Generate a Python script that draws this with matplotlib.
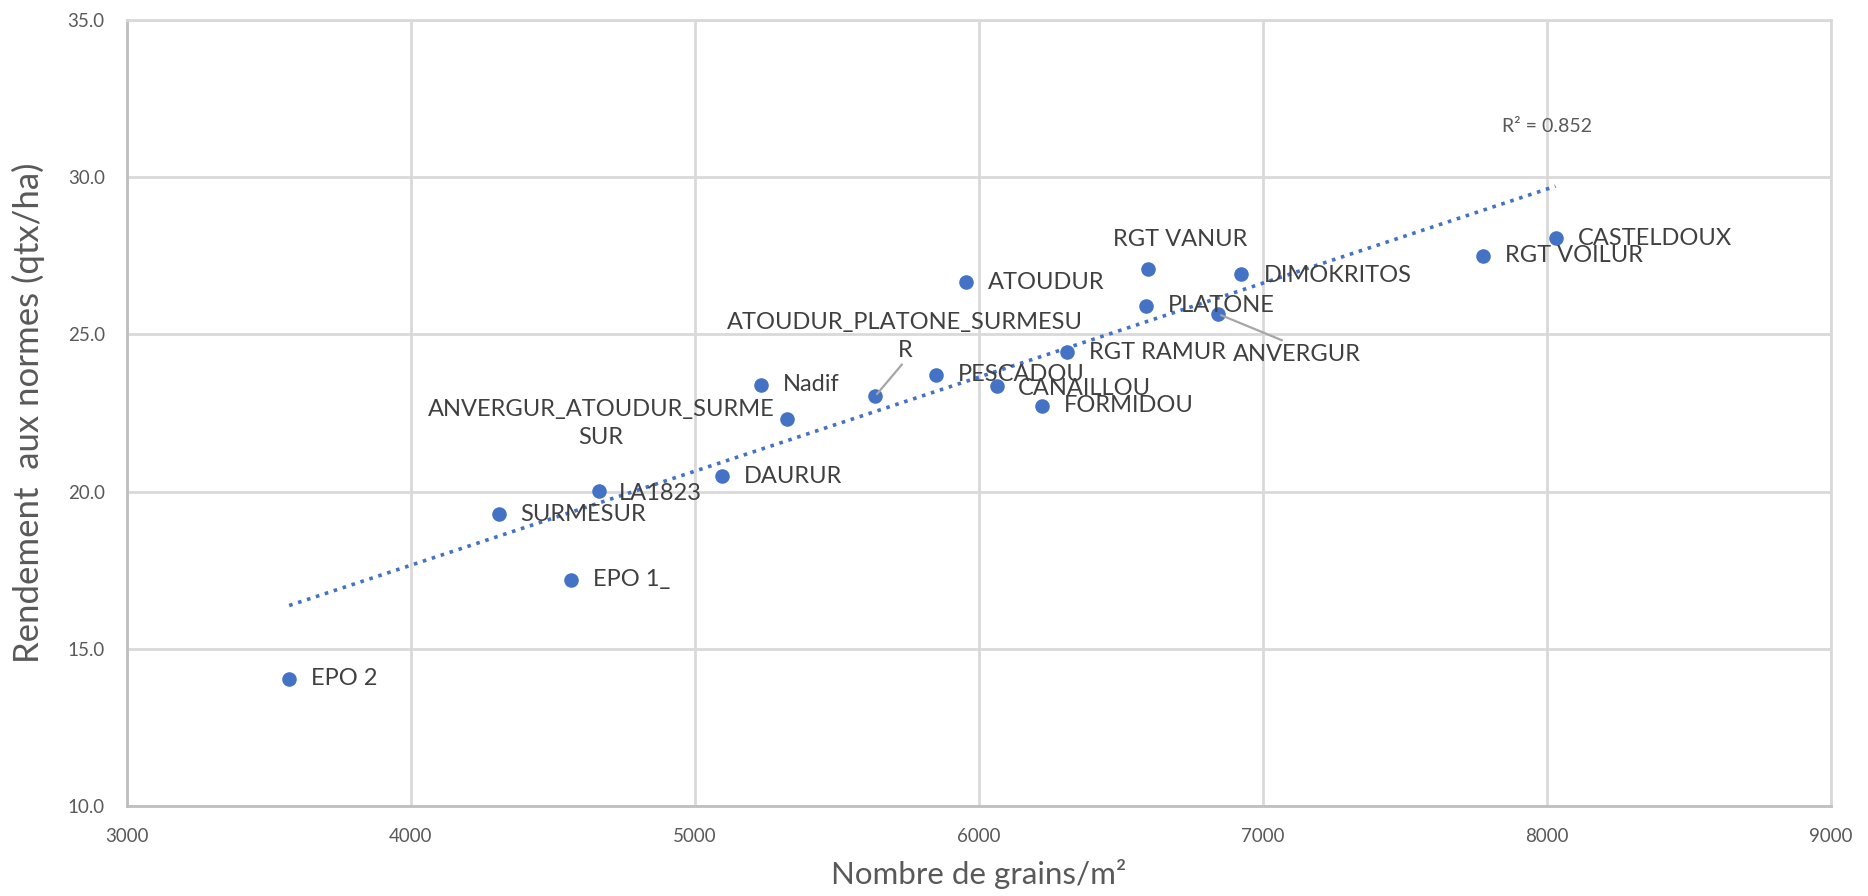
import numpy as np
import matplotlib
matplotlib.use("Agg")
import matplotlib.pyplot as plt

plt.rcParams['font.family'] = ['Lato', 'DejaVu Sans']

## Data
varieties = ['EPO 2', 'EPO 1_', 'SURMESUR', 'LA1823', 'DAURUR',
             'ANVERGUR_ATOUDUR_SURME\nSUR', 'Nadif', 'ATOUDUR_PLATONE_SURMESU\nR',
             'PESCADOU', 'CANAILLOU', 'FORMIDOU', 'ATOUDUR', 'RGT RAMUR',
             'PLATONE', 'ANVERGUR', 'RGT VANUR', 'DIMOKRITOS', 'RGT VOILUR',
             'CASTELDOUX']
grains = [3571, 4565, 4309, 4662, 5094, 5325, 5232, 5635, 5849, 6063, 6223,
          5954, 6311, 6588, 6844, 6596, 6924, 7775, 8031]
rendement = [14.05, 17.2, 19.28, 20.02, 20.48, 22.3, 23.4, 23.03, 23.71, 23.37,
             22.72, 26.65, 24.43, 25.91, 25.64, 27.08, 26.93, 27.5, 28.05]

r2_text = 'R² = 0.852'
x_ticks = [3000, 4000, 5000, 6000, 7000, 8000, 9000]
y_ticks = [10, 15, 20, 25, 30, 35]

# label offsets in pixels (dx, dy), alignment, leader line
label_style = {
    'ANVERGUR_ATOUDUR_SURME\nSUR': ((-186, -4), 'center', False),
    'ATOUDUR_PLATONE_SURMESU\nR': ((30, 60), 'center', True),
    'ANVERGUR': ((14, -40), 'left', True),
    'RGT VANUR': ((32, 29), 'center', False),
    'LA1823': ((20, -3), 'left', False),
    'CANAILLOU': ((21, -3), 'left', False),
    'DIMOKRITOS': ((23, -2), 'left', False),
}

blue = '#4472C4'
grey_txt = '#404040'
grid_c = '#d9d9d9'

fig = plt.figure(figsize=(18.68, 8.96), dpi=100)
ax = fig.add_axes([0.068, 0.1004, 0.912, 0.8776])

ax.scatter(grains, rendement, s=110, color=blue, zorder=3, linewidths=0)

# linear trend line over the data range
coef = np.polyfit(grains, rendement, 1)
xt = np.array([min(grains), max(grains)])
ax.plot(xt, np.polyval(coef, xt), color=blue, linestyle=(0, (1, 1.6)),
        linewidth=2.6, zorder=2)
ax.text(8000, 31.6, r2_text, fontsize=14, color='#595959', ha='center', va='center')

for name, gx, ry in zip(varieties, grains, rendement):
    off, ha, leader = label_style.get(name, ((22, 0), 'left', False))
    kw = {}
    if leader:
        kw['arrowprops'] = dict(arrowstyle='-', color='#a6a6a6', lw=1.6,
                                shrinkA=1, shrinkB=2,
                                relpos=(0.5, 0) if ha == 'center' else (0.45, 1))
    ax.annotate(name, (gx, ry), xytext=off, textcoords='offset pixels',
                ha=ha, va='center', multialignment='center', fontsize=17,
                color=grey_txt, linespacing=1.4, zorder=4, **kw)

ax.set_xlim(3000, 9000)
ax.set_ylim(10, 35)
ax.set_xticks(x_ticks)
ax.set_yticks(y_ticks)
ax.set_yticklabels(['%.1f' % v for v in y_ticks])
ax.tick_params(length=0, labelsize=13.5, labelcolor='#595959', pad=16)
ax.grid(True, color=grid_c, linewidth=2)
ax.set_axisbelow(True)
for sp in ax.spines.values():
    sp.set_color(grid_c)
    sp.set_linewidth(2)
ax.spines['left'].set_color('#bfbfbf')
ax.spines['bottom'].set_color('#bfbfbf')

ax.set_xlabel('Nombre de grains/m²', fontsize=22.5, color='#595959', labelpad=10)
ax.set_ylabel('Rendement  aux normes (qtx/ha)', fontsize=25, color='#595959', labelpad=16)

fig.savefig('out.png', dpi=100)
